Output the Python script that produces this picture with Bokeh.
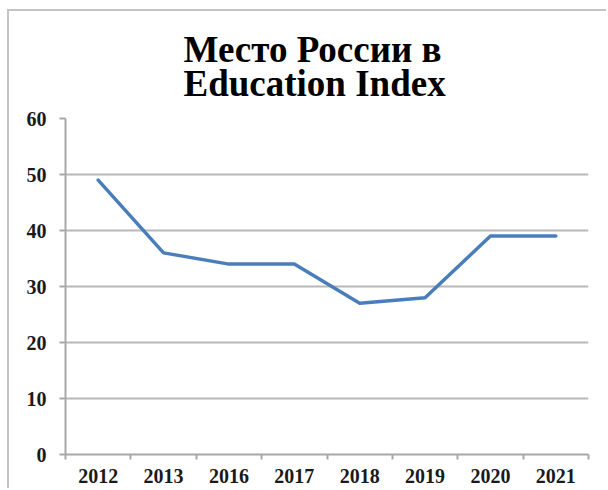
from bokeh.plotting import figure
from bokeh.models import ColumnDataSource, Range1d, FixedTicker
from bokeh.embed import file_html
from bokeh.resources import INLINE

# ---- data ----
years = ["2012", "2013", "2016", "2017", "2018", "2019", "2020", "2021"]
rank = [49, 36, 34, 34, 27, 28, 39, 39]
y_ticks = [0, 10, 20, 30, 40, 50, 60]
title_text = "Место России в\nEducation Index"

# category slots: each year occupies one unit, drawn at its centre
x_pos = [i + 0.5 for i in range(len(years))]
source = ColumnDataSource(data=dict(x=x_pos, y=rank, year=years))

SERIF = "Liberation Serif"
GRID = "#b8b8b8"
AXIS = "#a8a8a8"

p = figure(width=599, height=479, output_backend="svg", toolbar_location=None,
           x_range=Range1d(0, len(years)), y_range=Range1d(0, 60),
           min_border_left=56, min_border_right=20,
           min_border_top=107, min_border_bottom=36)
p.outline_line_color = None
p.background_fill_color = "white"
p.border_fill_color = "white"
# chart frame: left and top edges visible, the rest runs off the window
p.margin = (9, 0, 0, 7)
p.styles = {"border-left": "2px solid #c4c4c4",
            "border-top": "2px solid #c4c4c4"}

p.title.text = title_text
p.title.align = "left"
p.title.offset = 118
p.title.standoff = 28
p.title.text_font = SERIF
p.title.text_font_style = "bold"
p.title.text_font_size = "37px"
p.title.text_color = "black"
p.title.text_line_height = 0.83

p.line("x", "y", source=source, line_color="#4A7EBB", line_width=3.5,
       line_join="round", line_cap="round")

# x axis: labels at category centres, tick marks at category boundaries
xa = p.xaxis[0]
xa.ticker = FixedTicker(ticks=x_pos, minor_ticks=list(range(len(years) + 1)))
xa.major_label_overrides = {x: y for x, y in zip(x_pos, years)}
xa.major_tick_line_color = None
xa.major_tick_out = 0
xa.major_tick_in = 0
xa.minor_tick_out = 5
xa.minor_tick_in = 0
xa.minor_tick_line_color = AXIS
xa.minor_tick_line_width = 2
xa.axis_line_color = AXIS
xa.axis_line_width = 2
xa.major_label_standoff = 9
xa.major_label_text_font = SERIF
xa.major_label_text_font_style = "bold"
xa.major_label_text_font_size = "20px"
xa.major_label_text_color = "#1a1a1a"

ya = p.yaxis[0]
ya.ticker = FixedTicker(ticks=y_ticks)
ya.minor_tick_line_color = None
ya.major_tick_out = 6
ya.major_tick_in = 0
ya.major_tick_line_color = AXIS
ya.major_tick_line_width = 2
ya.axis_line_color = AXIS
ya.axis_line_width = 2
ya.major_label_standoff = 13
ya.major_label_text_font = SERIF
ya.major_label_text_font_style = "bold"
ya.major_label_text_font_size = "20px"
ya.major_label_text_color = "#1a1a1a"

p.xgrid.grid_line_color = None
p.ygrid.grid_line_color = GRID
p.ygrid.grid_line_width = 2
p.ygrid.ticker = FixedTicker(ticks=y_ticks)

open("out.html", "w").write(file_html(p, INLINE))
